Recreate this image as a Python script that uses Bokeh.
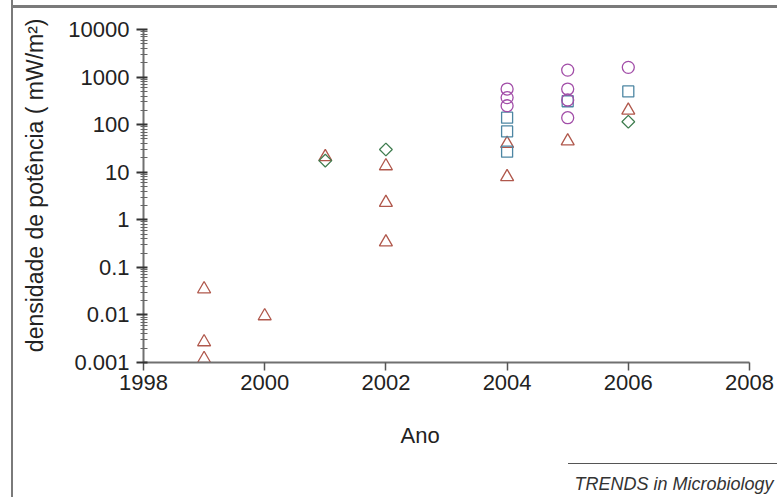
import math
from bokeh.plotting import figure
from bokeh.models import Range1d, FixedTicker, Title
from bokeh.embed import file_html
from bokeh.resources import INLINE

# ---- data ----
x_ticks = [1998, 2000, 2002, 2004, 2006, 2008]
y_ticks = [0.001, 0.01, 0.1, 1, 10, 100, 1000, 10000]
y_tick_labels = ["0.001", "0.01", "0.1", "1", "10", "100", "1000", "10000"]

tri_year = [1999, 1999, 1999, 2000, 2001, 2002, 2002, 2002, 2004, 2004, 2005, 2006]
tri_power = [0.035, 0.0027, 0.0012, 0.0095, 21, 13.5, 2.3, 0.34, 40, 8, 45, 200]

dia_year = [2001, 2002, 2006]
dia_power = [17.5, 30, 115]

circ_year = [2004, 2004, 2004, 2005, 2005, 2005, 2005, 2006]
circ_power = [560, 370, 250, 1400, 560, 330, 140, 1600]

sq_year = [2004, 2004, 2004, 2005, 2006]
sq_power = [140, 72, 27, 310, 500]

x_label = "Ano"
y_label = "densidade de potência ( mW/m²)"
credit = "TRENDS in Microbiology"

FONT = "Liberation Sans"

p = figure(width=777, height=497, output_backend="svg", toolbar_location=None,
           y_axis_type="log",
           x_range=Range1d(1998, 2008), y_range=Range1d(0.001, 10000),
           min_border_left=143, min_border_right=28, min_border_top=29, min_border_bottom=135)
p.outline_line_color = None
p.grid.visible = False
p.background_fill_color = None
p.border_fill_color = None
# page frame lines (left and top) and the rule above the credit line
p.styles = {
    "background": ("linear-gradient(#7a7a7a,#7a7a7a) 11px 0/2px 100% no-repeat, "
                   "linear-gradient(#7a7a7a,#7a7a7a) 11px 5px/100% 3px no-repeat, "
                   "linear-gradient(#555555,#555555) 568px 463px/209px 1px no-repeat, "
                   "#ffffff"),
}

# x axis
xa = p.xaxis[0]
xa.ticker = FixedTicker(ticks=x_ticks)
xa.major_tick_out = 8
xa.major_tick_in = 0
xa.minor_tick_out = 0
xa.minor_tick_in = 0
xa.major_label_standoff = 4
xa.axis_line_color = "#707070"
xa.axis_line_width = 2
xa.major_tick_line_color = "#555555"
xa.major_tick_line_width = 1.5
xa.major_label_text_font = FONT
xa.major_label_text_font_size = "22px"
xa.major_label_text_color = "#222222"

# y axis
minor = [d * m for d in y_ticks[:-1] for m in range(2, 10)]
ya = p.yaxis[0]
ya.ticker = FixedTicker(ticks=y_ticks, minor_ticks=minor)
ya.major_label_overrides = {t: s for t, s in zip(y_ticks, y_tick_labels)}
ya.major_tick_out = 7
ya.major_tick_in = 4
ya.minor_tick_out = 3
ya.minor_tick_in = 4
ya.major_label_standoff = 7
ya.axis_line_color = "#707070"
ya.axis_line_width = 2
ya.major_tick_line_color = "#333333"
ya.major_tick_line_width = 2
ya.minor_tick_line_color = "#666666"
ya.minor_tick_line_width = 1
ya.major_label_text_font = FONT
ya.major_label_text_font_size = "22px"
ya.major_label_text_color = "#222222"

LW = 1.3
p.scatter(tri_year, tri_power, marker="triangle", size=13, fill_color=None,
          line_color="#b0584c", line_width=LW)
p.scatter(sq_year, sq_power, marker="square", size=11, fill_color=None,
          line_color="#4d86a3", line_width=LW)
p.scatter(circ_year, circ_power, marker="circle", size=12, fill_color=None,
          line_color="#a24ea8", line_width=LW)
p.scatter(dia_year, dia_power, marker="square", size=9, angle=math.pi / 4,
          fill_color=None, line_color="#3f7d4f", line_width=LW)

# axis titles and credit
p.add_layout(Title(text=x_label, align="left", offset=257, standoff=57,
                   text_font=FONT, text_font_size="22px", text_font_style="normal",
                   text_color="#222222"), "below")
p.add_layout(Title(text=credit, align="right", offset=-24, standoff=-10,
                   text_font=FONT, text_font_size="18px", text_font_style="italic",
                   text_color="#333333"), "below")
p.add_layout(Title(text=y_label, align="right", offset=-11, standoff=35,
                   text_font=FONT, text_font_size="23px", text_font_style="normal",
                   text_color="#222222"), "left")

open("out.html", "w").write(file_html(p, INLINE))
